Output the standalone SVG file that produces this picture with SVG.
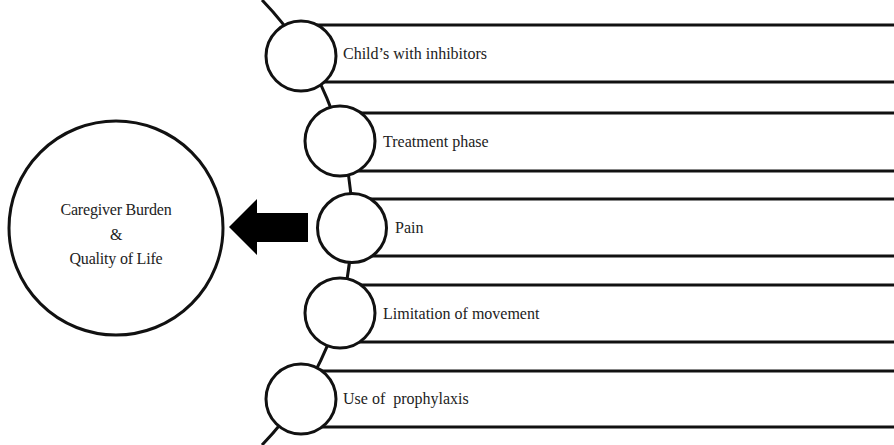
<svg xmlns="http://www.w3.org/2000/svg" width="894" height="445" viewBox="0 0 894 445">
<style>
.bar{stroke:#111;stroke-width:3;fill:none}
.node{fill:#fff;stroke:#111;stroke-width:3}
.lbl{font-family:"Liberation Serif","Times New Roman",serif;font-size:16px;fill:#222;white-space:pre}
.big{font-family:"Liberation Serif","Times New Roman",serif;font-size:16px;fill:#222;text-anchor:middle;letter-spacing:-0.2px}
</style>
<rect width="894" height="445" fill="#fff"/>
<g id="connectors">
<path class="bar" d="M262 0 A320 320 0 0 1 262 445" stroke-width="4"/>
<path d="M229 227 L257 199 L257 213 L308 213 L308 242 L257 242 L257 255 Z" fill="#000"/>
</g>
<g id="row1">
<line class="bar" x1="301" y1="25" x2="894" y2="25"/>
<line class="bar" x1="301" y1="82" x2="894" y2="82"/>
<circle class="node" cx="301" cy="56" r="35"/>
<text class="lbl" x="343" y="59">Child’s with inhibitors</text>
</g>
<g id="row2">
<line class="bar" x1="340" y1="113" x2="894" y2="113"/>
<line class="bar" x1="340" y1="171" x2="894" y2="171"/>
<circle class="node" cx="340" cy="141" r="35"/>
<text class="lbl" x="383" y="147">Treatment phase</text>
</g>
<g id="row3">
<line class="bar" x1="352" y1="199" x2="894" y2="199"/>
<line class="bar" x1="352" y1="256" x2="894" y2="256"/>
<circle class="node" cx="352" cy="228" r="34.5"/>
<text class="lbl" x="395" y="233">Pain</text>
</g>
<g id="row4">
<line class="bar" x1="340" y1="285" x2="894" y2="285"/>
<line class="bar" x1="340" y1="342" x2="894" y2="342"/>
<circle class="node" cx="340" cy="313" r="35"/>
<text class="lbl" x="383" y="319">Limitation of movement</text>
</g>
<g id="row5">
<line class="bar" x1="301" y1="371" x2="894" y2="371"/>
<line class="bar" x1="301" y1="427" x2="894" y2="427"/>
<circle class="node" cx="301" cy="399" r="35"/>
<text class="lbl" x="343" y="404">Use of  prophylaxis</text>
</g>
<g id="outcome">
<circle class="node" cx="116" cy="228" r="107" stroke-width="2.5"/>
<text class="big" x="116" y="215">Caregiver Burden</text>
<text class="big" x="116" y="240">&amp;</text>
<text class="big" x="116" y="264">Quality of Life</text>
</g>
</svg>
